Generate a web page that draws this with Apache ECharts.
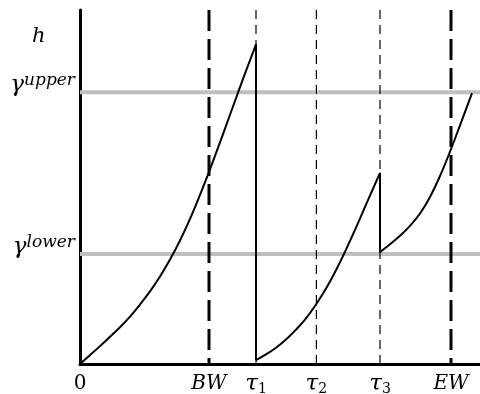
<!DOCTYPE html>
<html><head><meta charset="utf-8">
<script src="https://cdn.jsdelivr.net/npm/echarts@6/dist/echarts.min.js"></script>
<style>html,body{margin:0;padding:0;background:#fff}#c{width:480px;height:394px}</style>
</head><body><div id="c"></div>
<script>
// curve segments [x, h]
const curveSeg1 = [[0,0],[2.5,2.5],[5,5.05],[7.5,7.7],[10,10.4],[12.5,13.4],[15,16.8],[17.5,20.5],[20,24.7],[22.5,29.5],[25,34.9],[27.5,41.0],[30,47.8],[32.5,55.0],[35,62.6],[37.5,70.4],[40,78.2],[42.5,85.8],[44,90.3]];
const curveSeg2 = [[44,1.1],[46.5,2.7],[49,4.6],[51.5,6.9],[54,9.7],[56.5,12.9],[59,16.8],[61.5,21.3],[64,26.5],[66.5,32.3],[69,38.5],[71.5,45.0],[75,54.0]];
const curveSeg3 = [[75,31.6],[77.5,33.8],[80,36.2],[82.5,39.0],[85,42.5],[87.5,47.2],[90,53.1],[92.5,60.0],[95,67.4],[98,76.5]];
// vertical markers
const markerNames = ['BW','τ1','τ2','τ3','EW'];
const markerValues = [32.25, 44, 59.1, 75, 92.75];
const markerHeavy = [true, false, false, false, true];
// thresholds
const thresholdNames = ['upper','lower'];
const thresholdValues = [76.8, 31.1];
const originLabel = '0';

const FONT = 'DejaVu Serif';
const xTickValues = [0].concat(markerValues);
function xLabel(v){
  if (Math.abs(v) < 1e-6) return '{n|' + originLabel + '}';
  let idx = 0, best = 1e9;
  markerValues.forEach((m,i)=>{ if (Math.abs(m-v)<best){best=Math.abs(m-v); idx=i;} });
  const name = markerNames[idx];
  if (name.startsWith('τ')) return '{t|τ}{s|' + name.slice(1) + '}';
  return '{i|' + name + '}';
}
function yLabel(v){
  let idx = 0, best = 1e9;
  thresholdValues.forEach((m,i)=>{ if (Math.abs(m-v)<best){best=Math.abs(m-v); idx=i;} });
  return '{g|γ}{sup|' + thresholdNames[idx] + '}';
}

const series = [];
thresholdValues.forEach(v => {
  series.push({type:'line', data:[[0,v],[100,v]], symbol:'none', silent:true,
    lineStyle:{color:'#c0c0c0', width:4}, z:1});
});
markerValues.forEach((v,i) => {
  series.push({type:'line', data:[[v,100],[v,0]], symbol:'none', silent:true,
    lineStyle: markerHeavy[i] ? {color:'#000', width:3, type:[21,8]} : {color:'#000', width:1.2, type:[9,6]}, z:2});
});
[curveSeg1, curveSeg2, curveSeg3].forEach(seg => {
  series.push({type:'line', data:seg, symbol:'none', smooth:0.4, silent:true,
    lineStyle:{color:'#000', width:2, join:'round'}, z:3});
});
// vertical drops at tau1 and tau3
[[curveSeg1, curveSeg2],[curveSeg2, curveSeg3]].forEach(([a,b]) => {
  series.push({type:'line', data:[a[a.length-1], b[0]], symbol:'none', silent:true,
    lineStyle:{color:'#000', width:2}, z:3});
});

const chart = echarts.init(document.getElementById('c'), null, {renderer:'canvas'});
chart.setOption({
  animation:false,
  backgroundColor:'#fff',
  title:{text:'h', left:27, top:21, textStyle:{fontFamily:FONT, fontStyle:'italic', fontWeight:'normal', fontSize:21, color:'#000'}},
  grid:{left:80, right:0, top:10, bottom:30, containLabel:false, outerBoundsMode:'none'},
  xAxis:{type:'value', min:0, max:100,
    axisLine:{show:true, lineStyle:{color:'#000', width:3}},
    axisTick:{show:false}, splitLine:{show:false},
    axisLabel:{customValues:xTickValues, formatter:xLabel, margin:8, color:'#000',
      rich:{
        n:{fontFamily:FONT, fontSize:20, color:'#000', lineHeight:24},
        i:{fontFamily:FONT, fontStyle:'italic', fontSize:20, color:'#000', lineHeight:24},
        t:{fontFamily:FONT, fontStyle:'italic', fontSize:23, color:'#000', lineHeight:24},
        s:{fontFamily:FONT, fontSize:14, color:'#000', verticalAlign:'bottom', lineHeight:16}
      }}
  },
  yAxis:{type:'value', min:0, max:100,
    axisLine:{show:true, lineStyle:{color:'#000', width:3}},
    axisTick:{show:false}, splitLine:{show:false},
    axisLabel:{customValues:thresholdValues, formatter:yLabel, margin:5, color:'#000', verticalAlign:'middle', padding:[0,0,14,0],
      rich:{
        g:{fontFamily:FONT, fontStyle:'italic', fontSize:23, color:'#000', lineHeight:26},
        sup:{fontFamily:FONT, fontStyle:'italic', fontSize:17, color:'#000', verticalAlign:'top', lineHeight:20}
      }}
  },
  series: series
});
</script></body></html>
